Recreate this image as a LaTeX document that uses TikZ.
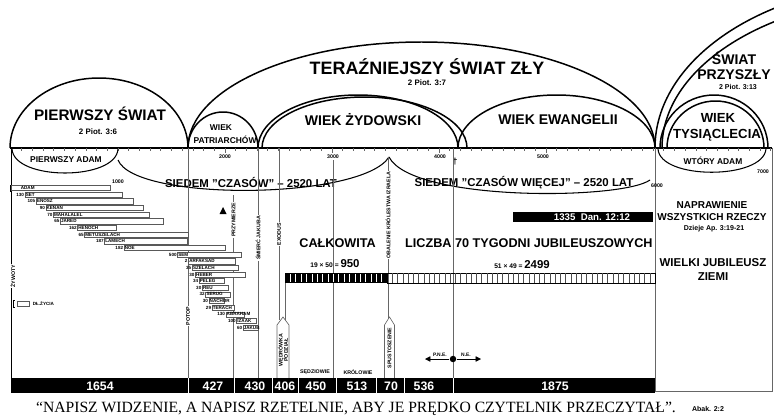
\documentclass[tikz,border=0pt]{standalone}
\usepackage{fontspec}
\setmainfont{Liberation Sans}
\newfontfamily\capfont{Liberation Serif}
\usetikzlibrary{arrows.meta}

\newcommand{\fsz}[1]{\fontsize{#1}{#1}\selectfont\bfseries}

\begin{document}
\begin{tikzpicture}[x=0.02cm, y=-0.02cm,
  domeline/.style={line width=0.85pt},
  bowlline/.style={line width=0.6pt},
  guide/.style={line width=0.35pt, black!60},
  lifebar/.style={draw=black!65, line width=0.25pt, fill=white},
  lifetxt/.style={font=\fsz{2.6}, inner sep=0.3pt},
  vlabel/.style={font=\fsz{3}, rotate=90, inner sep=0.4pt, fill=white},
  yearlbl/.style={font=\fsz{3}, inner sep=0pt},
  barnum/.style={font=\fsz{7}, text=white, inner sep=0pt},
]
  \useasboundingbox (0,0) rectangle (774,419);

  % domes of the worlds and ages
  \foreach \xa/\xb/\h in {10/188/70, 188/655/106, 188/258/36, 258/458/53, 262/467/51, 458/655/53, 660/768/53, 667/764/47}
    \draw[domeline] (\xa,148) arc[start angle=180, end angle=360, x radius={(\xb-\xa)/2}, y radius=\h];
  \begin{scope}
    \clip (0,0) rectangle (774,148);
    \draw[domeline] (655,148) arc[start angle=180, end angle=265, x radius=255, y radius=165];
    \draw[domeline] (662,148) arc[start angle=180, end angle=265, x radius=253, y radius=152];
  \end{scope}

  \node[font=\fsz{8.7}] (pierwszy) at (100,114) {PIERWSZY ŚWIAT};
  \node[font=\fsz{4.5}] (pierwszyref) at (98,132) {2 Piot. 3:6};
  \node[font=\fsz{10.2}] (terazn) at (427,67) {TERAŹNIEJSZY ŚWIAT ZŁY};
  \node[font=\fsz{4.5}] (teraznref) at (427,83) {2 Piot. 3:7};
  \node[font=\fsz{8}] (swiat) at (734,58) {ŚWIAT};
  \node[font=\fsz{8}] (przyszly) at (734,75) {PRZYSZŁY};
  \node[font=\fsz{4}] (przyszlyref) at (738,87) {2 Piot. 3:13};
  \node[font=\fsz{4.8}] (patrwiek) at (221,128) {WIEK};
  \node[font=\fsz{4.8}] (patriarch) at (225,140) {PATRIARCHÓW};
  \node[font=\fsz{8}] (zydowski) at (363,120) {WIEK ŻYDOWSKI};
  \node[font=\fsz{8}] (ewangelii) at (558,120) {WIEK EWANGELII};
  \node[font=\fsz{7.5}] (tyswiek) at (718,118) {WIEK};
  \node[font=\fsz{7.5}] (tysiaclecia) at (717,135) {TYSIĄCLECIA};

  % time line and frame
  \draw[line width=0.6pt] (10,148) -- (772,148);
  \foreach \i in {0,...,71}
    \draw[guide] ({11+10.7*\i},148) -- ++(0,2.5);
  \foreach \i in {2,...,5}
    \draw[guide] ({11+107*\i},150) -- ++(0,3);
  \draw[line width=0.5pt] (11,148) -- (11,393);
  \draw[guide] (655,148) -- (655,391) -- (772,391) -- (772,148);

  % lower bowls
  \draw[bowlline] (12,149) .. controls (14,181) and (116,181) .. (118,149);
  \draw[bowlline] (658,149) .. controls (660,180) and (763,180) .. (766,149);
  \draw[bowlline] (118,160) .. controls (135,202) and (362,200) .. (389,157);
  \draw[bowlline] (389,157) .. controls (412,202) and (622,200) .. (650,180);
  \node[font=\fsz{4.8}] (adam1) at (66,160) {PIERWSZY ADAM};
  \node[font=\fsz{4.8}] (adam2) at (713,161) {WTÓRY ADAM};
  \node[font=\fsz{6.5}] (siedem) at (251,182) {SIEDEM "CZASÓW" -- 2520 LAT};
  \node[font=\fsz{6.5}] (siedemw) at (524,183) {SIEDEM "CZASÓW WIĘCEJ" -- 2520 LAT};

  % years
  \node[yearlbl] (y1000) at (118,182) {1000};
  \node[yearlbl] (y2000) at (225,157) {2000};
  \node[yearlbl] (y3000) at (333,157) {3000};
  \node[yearlbl] (y4000) at (440,157) {4000};
  \node[yearlbl] (y5000) at (543,157) {5000};
  \node[yearlbl] (y6000) at (657,186) {6000};
  \node[yearlbl] (y7000) at (763,172) {7000};
  \node[font=\fsz{5}] (cross) at (455,162) {\dag};

  % vertical guides
  \draw[guide] (188,148) -- (188,378);
  \draw[guide] (233.5,195) -- (233.5,378);
  \draw[guide] (258,148) -- (258,378);
  \draw[guide] (279,148) -- (279,320);
  \draw[guide] (285,283) -- (285,320);
  \draw[guide] (333,160) -- (333,378);
  \draw[guide] (388,157) -- (388,320);
  \draw[guide] (453,148) -- (453,378);

  % life bars of the patriarchs
  \draw[line width=0.3pt] (12,185) -- (10,185) -- (10,191) -- (12,191);
  \draw[lifebar] (11,185.4) rectangle (110.5,190.6);
  \node[lifetxt, anchor=west] (life0) at (20,188) {ADAM};
  \foreach \k/\num/\who/\born/\died in {1/130/SET/130/1042, 2/105/ENOSZ/235/1140,
      3/90/KENAN/325/1235, 4/70/MAHALALEL/395/1290, 5/65/JARED/460/1422,
      6/162/HENOCH/622/987, 7/65/METUSZELACH/687/1656, 8/187/LAMECH/874/1651,
      9/182/NOE/1056/2006, 10/500/SEM/1556/2156, 11/2/ARFAKSAD/1658/2096,
      12/35/SZELACH/1693/2126, 13/30/HEBER/1723/2187, 14/34/PELEG/1757/1996,
      15/30/REU/1787/2026, 16/32/SERUG/1819/2049, 17/30/NACHOR/1849/1997,
      18/29/TERACH/1878/2083, 19/130/ABRAHAM/2008/2183, 20/100/IZAAK/2108/2288,
      21/60/JAKUB/2168/2315} {
    \pgfmathsetmacro\xa{11+0.107*\born}
    \pgfmathsetmacro\xb{11+0.107*\died}
    \pgfmathsetmacro\yy{188+6.65*\k}
    \draw[lifebar] (\xa,\yy-2.6) rectangle (\xb,\yy+2.6);
    \node[lifetxt, anchor=west] (life\k) at (\xa,\yy) {\who};
    \node[lifetxt, anchor=east] (age\k) at (\xa,\yy) {\num};
  }

  % legend
  \draw[line width=0.3pt] (15,300) -- (13,300) -- (13,307) -- (15,307);
  \draw[lifebar] (17,301) rectangle (29,306);
  \node[lifetxt, anchor=west] (legend) at (32,303.5) {DŁ.ŻYCIA};
  \node[vlabel] (zywoty) at (13,276) {ŻYWOTY};

  % events
  \fill (223,207) -- (226.5,214) -- (219.5,214) -- cycle;
  \node[vlabel] (przymierze) at (233.5,220) {PRZYMIERZE};
  \node[vlabel] (jakub) at (258,238) {ŚMIERĆ JAKUBA};
  \node[vlabel] (exodus) at (279,234) {EXODUS};
  \node[vlabel] (obalenie) at (388,215) {OBALENIE KRÓLESTWA IZRAELA};
  \node[vlabel] (potop) at (188,316) {POTOP};
  \draw[guide, fill=white] (277,378) -- (277,325) -- (283,317) -- (289,325) -- (289,378);
  \node[font=\fsz{3}, rotate=90, align=center, inner sep=0pt] (wedrowka) at (283,350) {WĘDRÓWKA\\PODZIAŁ};
  \draw[guide, fill=white] (384.5,378) -- (384.5,325) -- (389.5,317) -- (394.5,325) -- (394.5,378);
  \node[font=\fsz{3}, rotate=90, inner sep=0pt] (spustosz) at (389.5,348) {SPUSTOSZENIE};
  \node[font=\fsz{3}] (sedziowie) at (315,372) {SĘDZIOWIE};
  \node[font=\fsz{3}] (krolowie) at (358,372) {KRÓLOWIE};

  % jubilees
  \node[font=\fsz{7.2}, anchor=east] (calkowita) at (382,243) {CAŁKOWITA};
  \node[font=\fsz{7.2}, anchor=west] (liczba) at (399,243) {LICZBA 70 TYGODNI JUBILEUSZOWYCH};
  \node[font=\fsz{3.8}] (jub19) at (335,264) {19 × 50 = {\fsz{6.5}950}};
  \node[font=\fsz{3.8}] (jub51) at (522,265) {51 × 49 = {\fsz{6.5}2499}};
  \fill (285,273) rectangle (387,283);
  \foreach \i in {1,...,18}
    \draw[white, line width=0.3pt] ({285+102/19*\i},274) -- ++(0,8);
  \draw[line width=0.3pt] (387,273) rectangle (655,283);
  \foreach \i in {1,...,50}
    \draw[black!70, line width=0.25pt] ({387+268/51*\i},273) -- ++(0,10);

  % 1335 days
  \fill (513,212) rectangle (653,222);
  \node[font=\fsz{5.5}, text=white, inner sep=0pt] (dan) at (592,217) {1335\ \ Dan. 12:12};
  \node[font=\fsz{5.7}] (napraw) at (712,205) {NAPRAWIENIE};
  \node[font=\fsz{5.7}] (rzeczy) at (712,217) {WSZYSTKICH RZECZY};
  \node[font=\fsz{4}] (dzieje) at (714,229) {Dzieje Ap. 3:19-21};
  \node[font=\fsz{6.5}] (wielki) at (713,263) {WIELKI JUBILEUSZ};
  \node[font=\fsz{6.5}] (ziemi) at (713,277) {ZIEMI};

  % before / after Christ
  \node[circle, fill, inner sep=1.3pt] (zero) at (453,359) {};
  \coordinate (pne) at (425,359);
  \coordinate (ne) at (481,359);
  \draw[line width=0.3pt, -{Triangle[length=3pt, width=3pt]}] (zero) -- (pne);
  \draw[line width=0.3pt, -{Triangle[length=3pt, width=3pt]}] (zero) -- (ne);
  \node[font=\fsz{2.8}] (pnetxt) at (440,355) {P.N.E.};
  \node[font=\fsz{2.8}] (netxt) at (466,355) {N.E.};

  % periods
  \fill (11,378) rectangle (655,393);
  \foreach \s in {188,234,272,298,336,376,404,453}
    \draw[white, line width=0.5pt] (\s,378) -- (\s,393);
  \foreach \c/\v in {100/1654, 213/427, 255/430, 285/406, 316/450, 357/513, 391/70, 424/536, 555/1875}
    \node[barnum] (per\v) at (\c,386) {\v};

  % caption
  \node[font=\capfont\fontsize{8.9}{9}\selectfont] (motto) at (356,409) {“NAPISZ WIDZENIE, A NAPISZ RZETELNIE, ABY JE PRĘDKO CZYTELNIK PRZECZYTAŁ”.};
  \node[font=\fsz{4}] (abak) at (708,409) {Abak. 2:2};
\end{tikzpicture}
\end{document}
